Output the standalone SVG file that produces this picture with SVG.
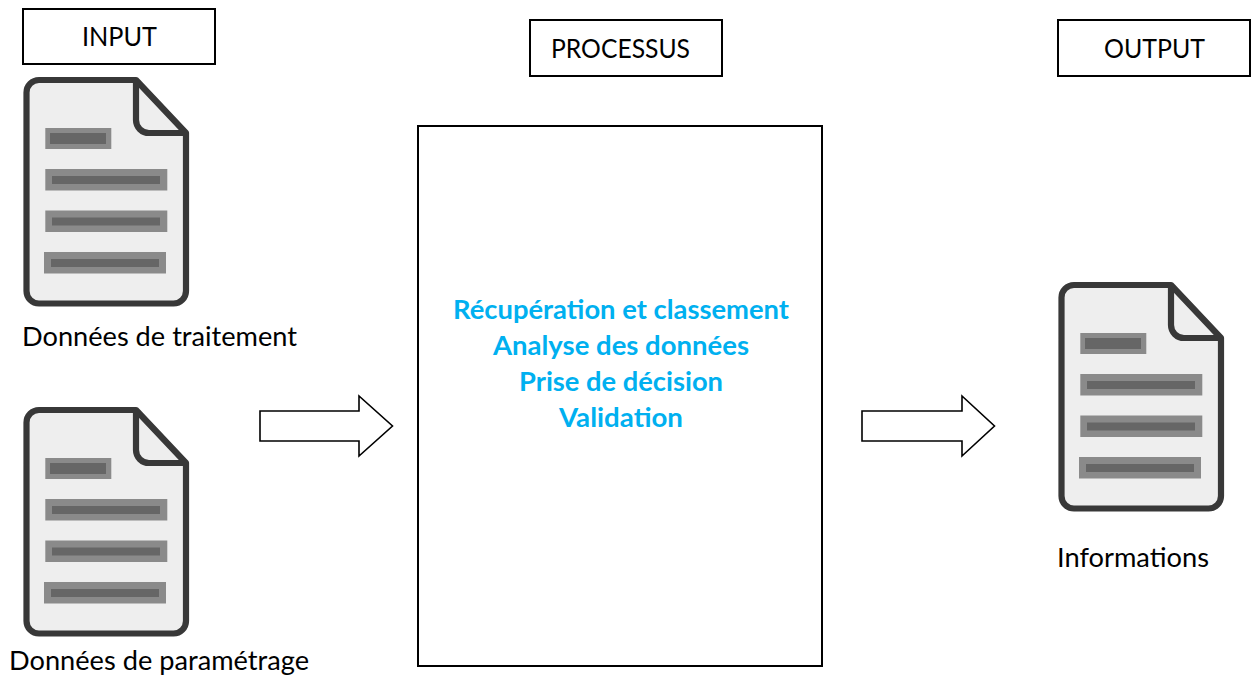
<svg xmlns="http://www.w3.org/2000/svg" width="1256" height="677" viewBox="0 0 1256 677">
<style>
.box{fill:#fff;stroke:#000;stroke-width:2}
.t{font-family:"Lato","Open Sans",sans-serif;font-size:26.7px;fill:#000}
.b{font-family:"Lato","Open Sans",sans-serif;font-size:26.7px;font-weight:700;fill:#00b0f0;text-anchor:middle}
.arrow{fill:#fff;stroke:#000;stroke-width:1.6;stroke-linejoin:miter}
.page{fill:#eee;stroke:#383838;stroke-width:6.2;stroke-linejoin:round}
.fold{fill:none;stroke:#383838;stroke-width:6.2}
.o{fill:#8a8a8a}.i{fill:#666}
</style>
<defs>
<g id="doc">
<path class="page" d="M136 80H39A12.500 12.500 0 0 0 26.500 92.500V291A12.500 12.500 0 0 0 39 303.500H173.500A12.500 12.500 0 0 0 186 291V133Z"/>
<path class="fold" d="M136 80V120A13 13 0 0 0 149 133H186"/>
<rect class="o" x="45.300" y="128" width="66" height="21"/><rect class="i" x="50" y="133" width="56" height="11"/>
<rect class="o" x="45.300" y="169" width="122" height="21.500"/><rect class="i" x="52" y="176" width="108" height="8"/>
<rect class="o" x="45.300" y="210.500" width="122" height="21.500"/><rect class="i" x="52" y="217.500" width="108" height="8"/>
<rect class="o" x="44" y="252" width="122" height="21.500"/><rect class="i" x="51" y="259" width="108" height="8"/>
</g>
</defs>
<rect width="1256" height="677" fill="#fff"/>
<g id="input-label"><rect class="box" x="23" y="9" width="192" height="55"/><text class="t" x="82" y="46" textLength="75" lengthAdjust="spacingAndGlyphs">INPUT</text></g>
<g id="processus-label"><rect class="box" x="530" y="20" width="192" height="56"/><text class="t" x="551" y="58" textLength="139" lengthAdjust="spacingAndGlyphs">PROCESSUS</text></g>
<g id="output-label"><rect class="box" x="1058" y="20" width="192" height="56"/><text class="t" x="1104" y="58" textLength="101" lengthAdjust="spacingAndGlyphs">OUTPUT</text></g>
<g id="doc-traitement"><use href="#doc"/><text class="t" x="22" y="346" textLength="275" lengthAdjust="spacingAndGlyphs">Données de traitement</text></g>
<g id="doc-parametrage"><use href="#doc" y="330"/><text class="t" x="9" y="670" textLength="300" lengthAdjust="spacingAndGlyphs">Données de paramétrage</text></g>
<g id="processus"><rect class="box" x="418" y="126" width="404" height="540"/>
<text class="b" x="621" y="319" textLength="336" lengthAdjust="spacingAndGlyphs">Récupération et classement</text>
<text class="b" x="621" y="355" textLength="256" lengthAdjust="spacingAndGlyphs">Analyse des données</text>
<text class="b" x="621" y="391" textLength="204" lengthAdjust="spacingAndGlyphs">Prise de décision</text>
<text class="b" x="621" y="427" textLength="124" lengthAdjust="spacingAndGlyphs">Validation</text></g>
<g id="doc-informations"><use href="#doc" x="1035" y="205"/><text class="t" x="1057" y="567" textLength="152" lengthAdjust="spacingAndGlyphs">Informations</text></g>
<g id="connectors">
<path class="arrow" d="M260 411H359V396L392.500 426L359 456V441H260Z"/>
<path class="arrow" d="M862 411H962V396L994.500 426L962 456V441H862Z"/>
</g>
</svg>
